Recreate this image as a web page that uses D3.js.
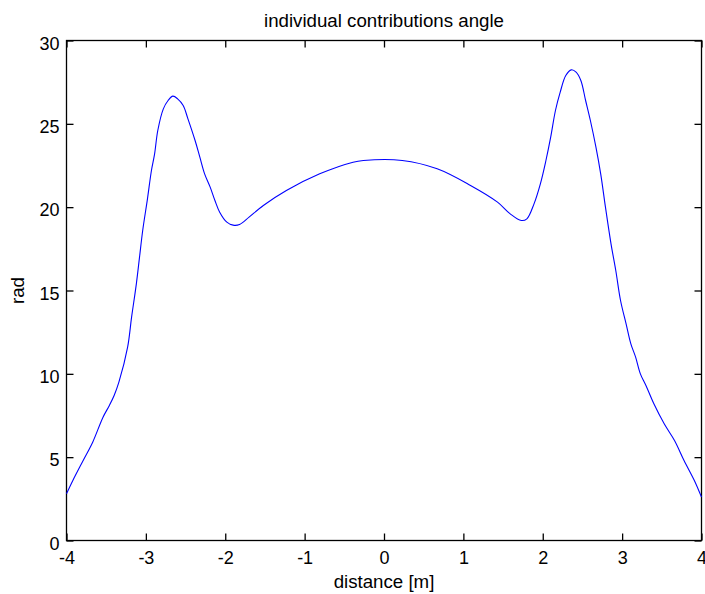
<!DOCTYPE html>
<html>
<head>
<meta charset="utf-8">
<script src="https://cdn.jsdelivr.net/npm/d3@7"></script>
<style>
  html, body { margin: 0; padding: 0; background: #fff; }
  svg { display: block; }
  text { font-family: Arial, "Liberation Sans", Helvetica, sans-serif; fill: #000; }
</style>
</head>
<body>
<svg id="chart" width="705" height="594"></svg>
<script>
// ---- data ----
const distance = [
  -4.00, -3.92, -3.79, -3.67, -3.54, -3.46, -3.40, -3.34, -3.23, -3.18,
  -3.12, -3.08, -3.04, -2.98, -2.93, -2.89, -2.85, -2.78, -2.72, -2.66,
  -2.60, -2.53, -2.47, -2.38, -2.32, -2.26, -2.19, -2.13, -2.07, -1.98,
  -1.90, -1.82, -1.70, -1.52, -1.23, -0.81, -0.39, -0.26, 0.23, 0.67,
  1.09, 1.43, 1.59, 1.73, 1.80, 1.89, 1.97, 2.04, 2.10, 2.16,
  2.22, 2.29, 2.36, 2.42, 2.48, 2.54, 2.60, 2.67, 2.73, 2.79,
  2.86, 2.92, 2.98, 3.05, 3.11, 3.17, 3.23, 3.30, 3.40, 3.53,
  3.66, 3.78, 3.91, 4.00
];
const angle = [
  2.8, 3.6, 4.8, 5.9, 7.4, 8.1, 8.7, 9.5, 11.6, 13.4,
  15.4, 17.0, 18.6, 20.5, 22.2, 23.2, 24.6, 25.9, 26.4, 26.66,
  26.5, 26.1, 25.3, 24.0, 23.0, 22.0, 21.2, 20.4, 19.7, 19.1,
  18.92, 18.96, 19.4, 20.1, 21.0, 22.0, 22.7, 22.8, 22.8, 22.3,
  21.3, 20.3, 19.6, 19.2, 19.3, 20.2, 21.4, 22.8, 24.2, 25.8,
  26.9, 27.9, 28.24, 28.1, 27.6, 26.4, 25.2, 23.6, 22.0, 20.0,
  17.8, 16.2, 14.4, 13.0, 11.8, 11.0, 10.0, 9.3, 8.2, 7.0,
  6.0, 4.8, 3.6, 2.6
];
const xTicks = [-4, -3, -2, -1, 0, 1, 2, 3, 4];
const yTicks = [0, 5, 10, 15, 20, 25, 30];
const titleText = "individual contributions angle";
const xLabelText = "distance [m]";
const yLabelText = "rad";

// ---- layout ----
const pLeft = 66.5, pRight = 701.5, pTop = 40.5, pBottom = 540.5;
const fontSize = 18;
const plainFmt = d => String(d);   // ASCII hyphen-minus like the reference

const svg = d3.select("#chart");
const x = d3.scaleLinear().domain([-4, 4]).range([pLeft, pRight]);
const y = d3.scaleLinear().domain([0, 30]).range([pBottom, pTop]);

// axes (ticks pointing inward on all four sides)
const styleAxis = g => {
  g.select(".domain").remove();
  g.selectAll(".tick line").attr("stroke", "#000").attr("stroke-width", 1.3);
  g.selectAll("text").style("font-size", fontSize + "px").attr("fill", "#000");
};

svg.append("g")
  .attr("transform", `translate(0,${pBottom})`)
  .call(d3.axisBottom(x).tickValues(xTicks).tickSizeInner(-7).tickSizeOuter(0).tickPadding(0)
    .tickFormat(plainFmt))
  .call(styleAxis)
  .call(g => g.selectAll("text").attr("y", 23).attr("dy", null));

svg.append("g")
  .attr("transform", `translate(0,${pTop})`)
  .call(d3.axisTop(x).tickValues(xTicks).tickSizeInner(-7).tickSizeOuter(0).tickFormat(""))
  .call(styleAxis);

svg.append("g")
  .attr("transform", `translate(${pLeft},0)`)
  .call(d3.axisLeft(y).tickValues(yTicks).tickSizeInner(-7).tickSizeOuter(0).tickPadding(7)
    .tickFormat(plainFmt))
  .call(styleAxis)
  .call(g => g.selectAll("text").attr("dy", "8.7px"));

svg.append("g")
  .attr("transform", `translate(${pRight},0)`)
  .call(d3.axisRight(y).tickValues(yTicks).tickSizeInner(-7).tickSizeOuter(0).tickFormat(""))
  .call(styleAxis);

// box
svg.append("rect")
  .attr("x", pLeft).attr("y", pTop)
  .attr("width", pRight - pLeft).attr("height", pBottom - pTop)
  .attr("fill", "none").attr("stroke", "#000").attr("stroke-width", 1.3);

// curve
const pts = distance.map((d, i) => [d, angle[i]]);
svg.append("path")
  .datum(pts)
  .attr("fill", "none")
  .attr("stroke", "#0000ff")
  .attr("stroke-width", 1.1)
  .attr("d", d3.line().x(d => x(d[0])).y(d => y(d[1])).curve(d3.curveCatmullRom.alpha(0.5)));

// title and labels
svg.append("text")
  .attr("x", (pLeft + pRight) / 2).attr("y", 26.5)
  .attr("text-anchor", "middle")
  .style("font-size", "18.7px")
  .text(titleText);

svg.append("text")
  .attr("x", (pLeft + pRight) / 2).attr("y", 588)
  .attr("text-anchor", "middle")
  .style("font-size", "18.7px")
  .text(xLabelText);

svg.append("text")
  .attr("transform", `translate(24,${(pTop + pBottom) / 2}) rotate(-90)`)
  .attr("text-anchor", "middle")
  .style("font-size", "18.7px")
  .text(yLabelText);
</script>
</body>
</html>
